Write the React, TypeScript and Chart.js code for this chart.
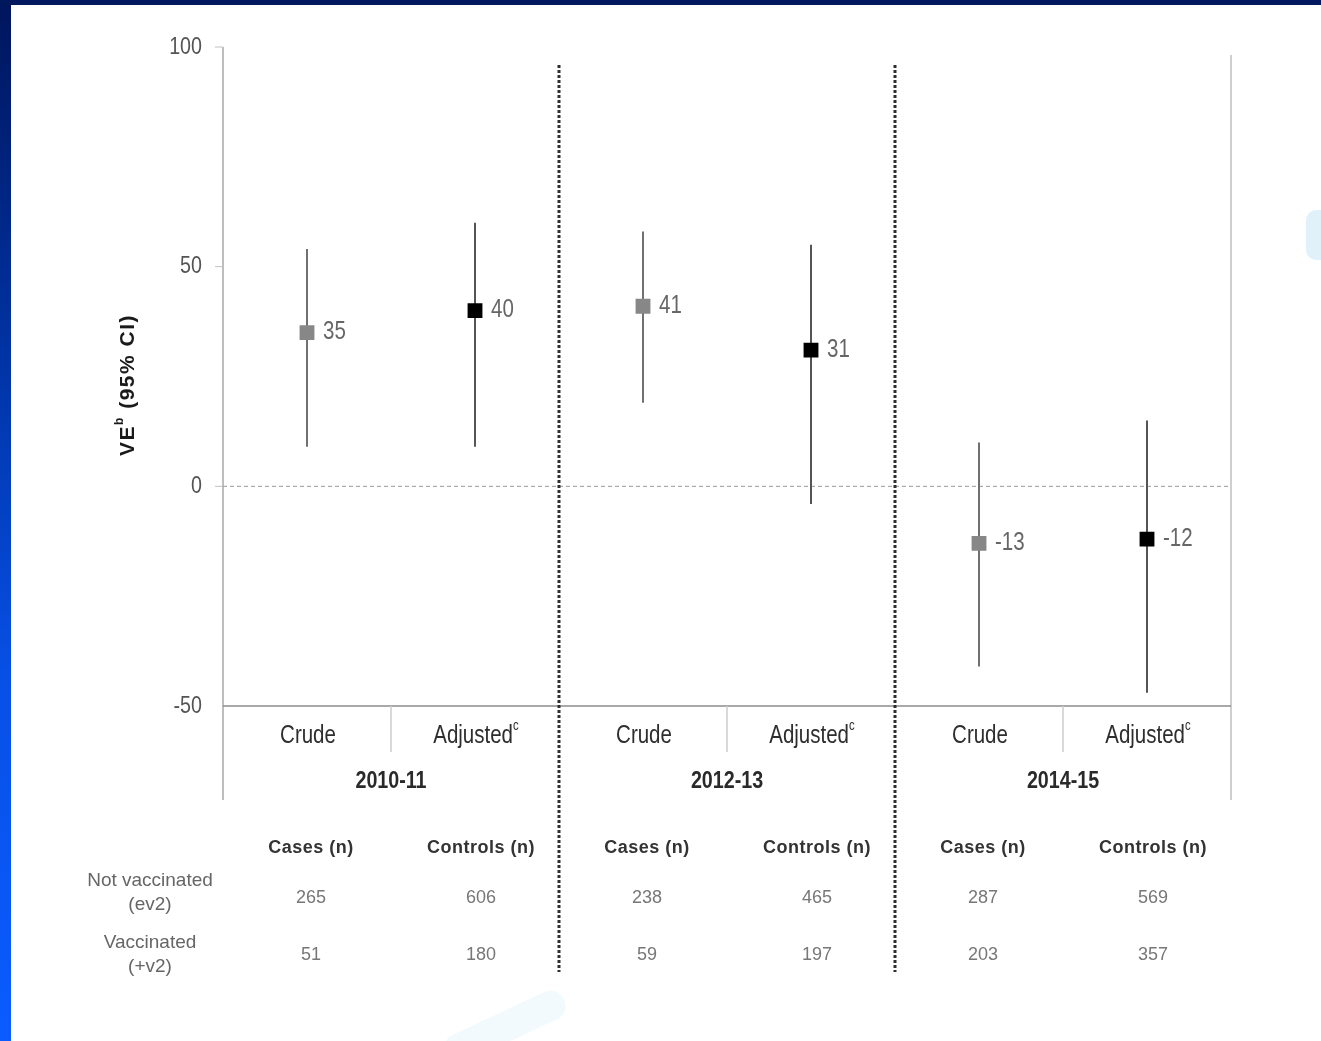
import { useEffect, useRef } from 'react';
import { Chart, registerables } from 'chart.js';

Chart.register(...registerables);

// Estimates of vaccine effectiveness by season
const categories = ['Crude', 'Adjusted', 'Crude', 'Adjusted', 'Crude', 'Adjusted'];
const seasons = ['2010-11', '2012-13', '2014-15'];
const crudeVE = [35, 41, -13];
const crudeLow = [9, 19, -41];
const crudeHigh = [54, 58, 10];
const adjustedVE = [40, 31, -12];
const adjustedLow = [9, -4, -47];
const adjustedHigh = [60, 55, 15];
const yTicks = [100, 50, 0, -50];

// Counts table under the chart
const tableHeaders = ['Cases (n)', 'Controls (n)'];
const casesNotVacc = [265, 238, 287];
const controlsNotVacc = [606, 465, 569];
const casesVacc = [51, 59, 203];
const controlsVacc = [180, 197, 357];

const W = 1321;
const H = 1041;

let narrowOK = false;
function detectNarrow(): boolean {
  const c = document.createElement('canvas').getContext('2d')!;
  c.font = '40px monospace';
  const a = c.measureText('Crude 2010-11').width;
  c.font = "40px 'Liberation Sans Narrow', monospace";
  const b = c.measureText('Crude 2010-11').width;
  return Math.abs(a - b) > 0.5;
}

type Part = { t: string; sup?: boolean };
type TextOpts = {
  size: number;
  weight?: string;
  color: string;
  align: 'left' | 'center' | 'right';
  narrow?: boolean;
  spacing?: number;
};

function drawText(ctx: CanvasRenderingContext2D, parts: Part[], x: number, y: number, o: TextOpts) {
  const family = o.narrow && narrowOK ? "'Liberation Sans Narrow', 'Liberation Sans', sans-serif" : "'Liberation Sans', Arial, sans-serif";
  const sx = o.narrow && !narrowOK ? 0.82 : 1;
  const weight = o.weight || 'normal';
  ctx.save();
  (ctx as any).letterSpacing = `${o.spacing || 0}px`;
  const fonts = parts.map((p) => `${weight} ${p.sup ? Math.round(o.size * 0.55) : o.size}px ${family}`);
  const widths = parts.map((p, i) => {
    ctx.font = fonts[i];
    return ctx.measureText(p.t).width;
  });
  const total = widths.reduce((s, w) => s + w, 0);
  let cur = o.align === 'center' ? -total / 2 : o.align === 'right' ? -total : 0;
  ctx.translate(x, y);
  ctx.scale(sx, 1);
  ctx.fillStyle = o.color;
  ctx.textBaseline = 'middle';
  ctx.textAlign = 'left';
  parts.forEach((p, i) => {
    ctx.font = fonts[i];
    ctx.fillText(p.t, cur, p.sup ? -o.size * 0.38 : 0);
    cur += widths[i];
  });
  ctx.restore();
}

function line(ctx: CanvasRenderingContext2D, x1: number, y1: number, x2: number, y2: number, color: string, width: number, dash: number[] = []) {
  ctx.save();
  ctx.strokeStyle = color;
  ctx.lineWidth = width;
  ctx.setLineDash(dash);
  ctx.beginPath();
  ctx.moveTo(x1, y1);
  ctx.lineTo(x2, y2);
  ctx.stroke();
  ctx.restore();
}

const lowByCat = categories.map((_, i) => (i % 2 === 0 ? crudeLow[i >> 1] : adjustedLow[i >> 1]));
const highByCat = categories.map((_, i) => (i % 2 === 0 ? crudeHigh[i >> 1] : adjustedHigh[i >> 1]));
const veByCat = categories.map((_, i) => (i % 2 === 0 ? crudeVE[i >> 1] : adjustedVE[i >> 1]));

const decor = {
  id: 'veDecor',
  beforeDatasetsDraw(chart: any) {
    const { ctx, chartArea: a, scales } = chart;
    const x = scales.x;
    const y = scales.y;
    const extBottom = a.bottom + 94;

    // axis frame
    line(ctx, a.left, a.top, a.left, extBottom, '#a8a8a8', 1.5);
    line(ctx, a.right, a.top + 8, a.right, extBottom, '#cfcfcf', 2);
    line(ctx, a.left, a.bottom, a.right, a.bottom, '#8c8c8c', 1.5);
    yTicks.forEach((v) => {
      const py = y.getPixelForValue(v);
      if (v !== -50) line(ctx, a.left - 8, py, a.left, py, '#c0c0c0', 1);
    });

    // reference line at zero
    const y0 = y.getPixelForValue(0);
    line(ctx, a.left, y0, a.right, y0, '#9a9a9a', 1, [4, 3]);

    // crude / adjusted dividers
    for (let s = 0; s < seasons.length; s++) {
      const mx = (x.getPixelForValue(2 * s) + x.getPixelForValue(2 * s + 1)) / 2;
      line(ctx, mx, a.bottom, mx, a.bottom + 46, '#cccccc', 1.5);
    }

    // season separators
    for (let s = 1; s < seasons.length; s++) {
      const mx = (x.getPixelForValue(2 * s - 1) + x.getPixelForValue(2 * s)) / 2;
      line(ctx, mx, a.top + 18, mx, a.bottom + 266, '#2e2e2e', 3, [3, 2]);
    }

    // confidence intervals
    categories.forEach((_, i) => {
      const px = x.getPixelForValue(i);
      line(ctx, px, y.getPixelForValue(highByCat[i]), px, y.getPixelForValue(lowByCat[i]), i % 2 === 0 ? '#707070' : '#555555', 2);
    });
  },
  afterDraw(chart: any) {
    const { ctx, chartArea: a, scales } = chart;
    const x = scales.x;
    const y = scales.y;

    // y tick labels
    yTicks.forEach((v) => {
      drawText(ctx, [{ t: String(v) }], a.left - 21, y.getPixelForValue(v), { size: 24, color: '#555', align: 'right', narrow: true });
    });

    // y title
    ctx.save();
    ctx.translate(128, 385);
    ctx.rotate(-Math.PI / 2);
    drawText(ctx, [{ t: 'VE' }, { t: 'b', sup: true }, { t: ' (95% CI)' }], 0, 0, { size: 21, weight: 'bold', color: '#1a1a1a', align: 'center', spacing: 1.5 });
    ctx.restore();

    // value labels next to markers
    categories.forEach((_, i) => {
      const px = x.getPixelForValue(i);
      drawText(ctx, [{ t: String(veByCat[i]) }], px + 16, y.getPixelForValue(veByCat[i]), { size: 25, color: '#666', align: 'left', narrow: true });
    });

    // category labels
    categories.forEach((c, i) => {
      const px = x.getPixelForValue(i);
      const parts: Part[] = c === 'Adjusted' ? [{ t: c }, { t: 'c', sup: true }] : [{ t: c }];
      drawText(ctx, parts, px + 1, a.bottom + 30, { size: 25, color: '#2e2e2e', align: 'center', narrow: true });
    });

    // season labels
    seasons.forEach((s, k) => {
      const mx = (x.getPixelForValue(2 * k) + x.getPixelForValue(2 * k + 1)) / 2;
      drawText(ctx, [{ t: s }], mx, a.bottom + 75, { size: 24, color: '#2a2a2a', align: 'center', narrow: true, weight: 'bold' });
    });

    // counts table
    const hy = a.bottom + 142;
    const r1 = a.bottom + 192;
    const r2 = a.bottom + 249;
    seasons.forEach((_, k) => {
      const cx = x.getPixelForValue(2 * k) + 4;
      const ax = x.getPixelForValue(2 * k + 1) + 6;
      drawText(ctx, [{ t: tableHeaders[0] }], cx, hy, { size: 18, weight: 'bold', color: '#333', align: 'center', spacing: 0.5 });
      drawText(ctx, [{ t: tableHeaders[1] }], ax, hy, { size: 18, weight: 'bold', color: '#333', align: 'center', spacing: 0.5 });
      drawText(ctx, [{ t: String(casesNotVacc[k]) }], cx, r1, { size: 18, color: '#777', align: 'center' });
      drawText(ctx, [{ t: String(controlsNotVacc[k]) }], ax, r1, { size: 18, color: '#777', align: 'center' });
      drawText(ctx, [{ t: String(casesVacc[k]) }], cx, r2, { size: 18, color: '#777', align: 'center' });
      drawText(ctx, [{ t: String(controlsVacc[k]) }], ax, r2, { size: 18, color: '#777', align: 'center' });
    });
    drawText(ctx, [{ t: 'Not vaccinated' }], 150, r1 - 17, { size: 19, color: '#666', align: 'center' });
    drawText(ctx, [{ t: '(ev2)' }], 150, r1 + 7, { size: 19, color: '#666', align: 'center' });
    drawText(ctx, [{ t: 'Vaccinated' }], 150, r2 - 12, { size: 19, color: '#666', align: 'center' });
    drawText(ctx, [{ t: '(+v2)' }], 150, r2 + 12, { size: 19, color: '#666', align: 'center' });
  },
};

export default function App() {
  const ref = useRef<HTMLCanvasElement>(null);

  useEffect(() => {
    narrowOK = detectNarrow();
    const crudeData = categories.map((_, i) => (i % 2 === 0 ? crudeVE[i >> 1] : null));
    const adjustedData = categories.map((_, i) => (i % 2 === 1 ? adjustedVE[i >> 1] : null));
    const chart = new Chart(ref.current!, {
      type: 'line',
      data: {
        labels: categories,
        datasets: [
          {
            label: 'Crude',
            data: crudeData,
            showLine: false,
            pointStyle: 'rect',
            pointRadius: 10.5,
            pointBackgroundColor: '#878787',
            pointBorderColor: '#878787',
            pointBorderWidth: 0,
          },
          {
            label: 'Adjusted',
            data: adjustedData,
            showLine: false,
            pointStyle: 'rect',
            pointRadius: 10.5,
            pointBackgroundColor: '#000',
            pointBorderColor: '#000',
            pointBorderWidth: 0,
          },
        ],
      },
      options: {
        responsive: false,
        animation: false,
        devicePixelRatio: 1,
        layout: { padding: { top: 47, right: 90, left: 0, bottom: 0 } },
        plugins: { legend: { display: false }, tooltip: { enabled: false } },
        scales: {
          x: {
            type: 'category',
            offset: true,
            grid: { display: false },
            border: { display: false },
            ticks: { display: false },
            afterFit: (s: any) => {
              s.height = 335;
            },
          },
          y: {
            min: -50,
            max: 100,
            ticks: { display: false, stepSize: 50 },
            grid: { display: false },
            border: { display: false },
            afterFit: (s: any) => {
              s.width = 223;
            },
          },
        },
      },
      plugins: [decor],
    } as any);
    return () => chart.destroy();
  }, []);

  return (
    <div style={{ position: 'fixed', left: 0, top: 0, width: W, height: H, background: '#fff', overflow: 'hidden' }}>
      <div style={{ position: 'absolute', left: 0, top: 0, width: 11, height: H, background: 'linear-gradient(to bottom, #00155c 0%, #0034a6 35%, #0750e6 65%, #0a5cff 100%)' }} />
      <div style={{ position: 'absolute', left: 0, top: 0, width: W, height: 5, background: '#00185e' }} />
      <div style={{ position: 'absolute', left: 440, top: 1012, width: 130, height: 30, borderRadius: 14, background: 'rgba(190, 225, 245, 0.18)', transform: 'rotate(-25deg)' }} />
      <div style={{ position: 'absolute', left: 1306, top: 210, width: 30, height: 50, borderRadius: 10, background: 'rgba(170, 215, 240, 0.35)' }} />
      <canvas ref={ref} width={W} height={H} style={{ position: 'absolute', left: 0, top: 0 }} />
    </div>
  );
}
